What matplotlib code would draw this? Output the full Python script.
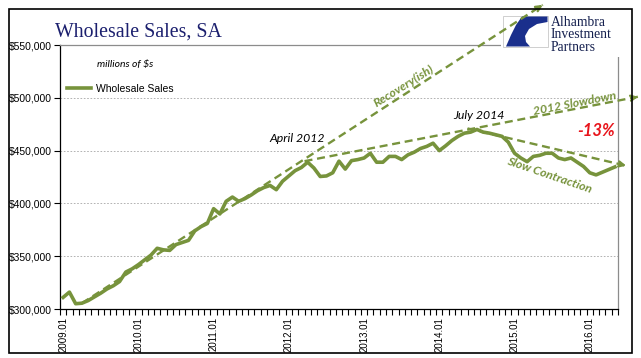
import matplotlib
matplotlib.use("Agg")
import matplotlib.pyplot as plt
from matplotlib.patches import Rectangle, Polygon
from matplotlib.transforms import Affine2D
import numpy as np

# === Data: monthly wholesale sales, SA, 2009.01 - 2016.05 (millions of $) ===
sales = [
    311000, 316000, 305000, 305500, 308000, 311500, 315000, 319000, 322000, 326000, 335000, 338000,
    342000, 346500, 351000, 357500, 356000, 355500, 361000, 363000, 365000, 374000, 378000, 381000,
    395000, 390000, 402000, 406000, 402000, 404500, 408000, 412000, 415000, 417000, 413000, 421000,
    426000, 431000, 434000, 439000, 433500, 425500, 426000, 429000, 440000, 432500, 440500, 441500,
    443000, 447500, 439000, 439000, 444500, 444500, 441500, 446000, 448500, 452000, 454000, 457000,
    450000, 454500, 459500, 463500, 466500, 467500, 470000, 467500, 466500, 465000, 463500, 458000,
    447500, 443000, 439500, 444500, 445500, 447500, 447500, 443000, 441500, 443000, 439000, 435000,
    429000, 427000, 429500, 432000, 434500,
]
year_labels = ["2009.01", "2010.01", "2011.01", "2012.01", "2013.01", "2014.01", "2015.01", "2016.01"]
y_ticks = [300000, 350000, 400000, 450000, 500000, 550000]

# trend arrows drawn on the chart: (month index, value) start -> end
recovery_line = [(3, 305500), (76.5, 588000)]
slowdown_line = [(38.5, 440000), (91.7, 501000)]
contraction_line = [(64.5, 471000), (89.8, 435700)]

GREEN = "#77933C"
NAVY = "#1b1f6e"
W, H = 641, 358

fig = plt.figure(figsize=(W / 100, H / 100), dpi=100)
fig.patch.set_facecolor("white")
ax = fig.add_axes([60 / W, 49 / H, 558 / W, 264 / H])

# pixel transform, origin at top-left
px = Affine2D().scale(1, -1).translate(0, H)

x = np.arange(len(sales))
ax.plot(x, sales, color=GREEN, lw=2.6, solid_joinstyle="round", zorder=3,
        label="Wholesale Sales")

ax.set_xlim(-0.5, len(sales) - 0.5)
ax.set_ylim(300000, 550000)

# === Axes styling ===
ax.set_yticks(y_ticks)
ax.set_yticklabels([f"${v:,.0f}" for v in y_ticks], fontsize=7.5, family="Liberation Sans")
ax.tick_params(axis="y", direction="out", length=4, width=0.8, pad=2)
ax.yaxis.grid(True, color="#a6a6a6", linestyle=(0, (2, 2)), lw=0.6)

ax.set_xticks(np.arange(0, len(sales), 12))
ax.set_xticklabels(year_labels, rotation=90, fontsize=7, family="Liberation Sans")
ax.set_xticks(np.arange(-0.5, len(sales), 1), minor=True)
ax.tick_params(axis="x", which="major", length=0, pad=6)
ax.tick_params(axis="x", which="minor", direction="out", length=4, width=0.8)

for side in ["left", "bottom"]:
    ax.spines[side].set_color("black")
    ax.spines[side].set_linewidth(0.9)
for side in ["top", "right"]:
    ax.spines[side].set_color("#8c8c8c")
    ax.spines[side].set_linewidth(0.9)

# === Trend arrows ===
def trend_arrow(pts):
    (x0, y0), (x1, y1) = pts
    ax.plot([x0, x1], [y0, y1], color=GREEN, lw=1.7, dashes=(3.4, 2.0),
            clip_on=False, zorder=6)
    p0 = ax.transData.transform((x0, y0))
    p1 = ax.transData.transform((x1, y1))
    u = (p1 - p0) / np.hypot(*(p1 - p0))
    back = ax.transData.inverted().transform(p1 - 7 * u)
    ax.annotate("", xy=(x1, y1), xytext=tuple(back),
                arrowprops=dict(arrowstyle="->", color=GREEN, lw=1.7, mutation_scale=9,
                                shrinkA=0, shrinkB=0),
                annotation_clip=False, zorder=6)

for line in [recovery_line, slowdown_line, contraction_line]:
    trend_arrow(line)

# === Annotations ===
note = dict(family="Lato", style="italic", fontsize=8.8)
ax.text(54.4, 511500, "Recovery(ish)", color=GREEN, weight="bold", rotation=32,
        ha="center", va="center", **note)
ax.text(81.6, 495000, "2012 Slowdown", color=GREEN, weight="bold", rotation=11,
        ha="center", va="center", **note)
ax.text(77.5, 427000, "Slow Contraction", color=GREEN, weight="bold", rotation=-19,
        ha="center", va="center", **note)
ax.text(37.3, 461000, "April 2012", color="black", ha="center", va="center", **note)
ax.text(66.3, 483000, "July 2014", color="black", ha="center", va="center", **note)
ax.text(85, 469000, "-13%", color="#e8141b", weight="bold", ha="center", va="center",
        family="Lato", style="italic", fontsize=12)

# === Legend ===
leg = ax.legend(loc="center left", bbox_to_anchor=(7 / 558, 220 / 264), frameon=False,
                borderpad=0, borderaxespad=0, handlelength=2.3, handletextpad=0.5,
                prop=dict(family="Liberation Sans", size=7.5))

# === Titles ===
fig.text(55 / W, 1 - 37 / H, "Wholesale Sales, SA", color=NAVY, fontsize=14.3,
         family="Liberation Serif", va="baseline")
fig.text(97 / W, 1 - 64 / H, "millions of $s", color="black", fontsize=7.5,
         family="Lato", style="italic", va="center")

# === Logo ===
ax.add_patch(Rectangle((501, 10), 124, 47, transform=px, facecolor="white",
                       edgecolor="none", clip_on=False, zorder=4))
ax.add_patch(Rectangle((503, 16), 45, 31, transform=px, facecolor="white",
                       edgecolor="#c8c8c8", lw=0.6, clip_on=False, zorder=4.5))
swoosh = [(522, 16.5), (547.5, 16.5), (547.5, 22), (537, 24), (529, 29), (525, 36),
          (526, 42), (530, 46.5), (506, 46.5), (511, 35), (516, 25)]
ax.add_patch(Polygon(swoosh, closed=True, transform=px, facecolor="#1a2f8c",
                     edgecolor="none", clip_on=False, zorder=4.6))
logo_text = ax.text(551, 16, "Alhambra\nInvestment\nPartners", transform=px, color="#15204f",
                    fontsize=9.8, family="Liberation Serif", va="top", ha="left",
                    linespacing=0.95, clip_on=False, zorder=4.7)

# === Outer frame ===
fig.add_artist(Rectangle((9, 9), 623, 344, transform=px, fill=False,
                         edgecolor="black", lw=1.2))

fig.savefig("out.png", dpi=100)
plt.close(fig)
